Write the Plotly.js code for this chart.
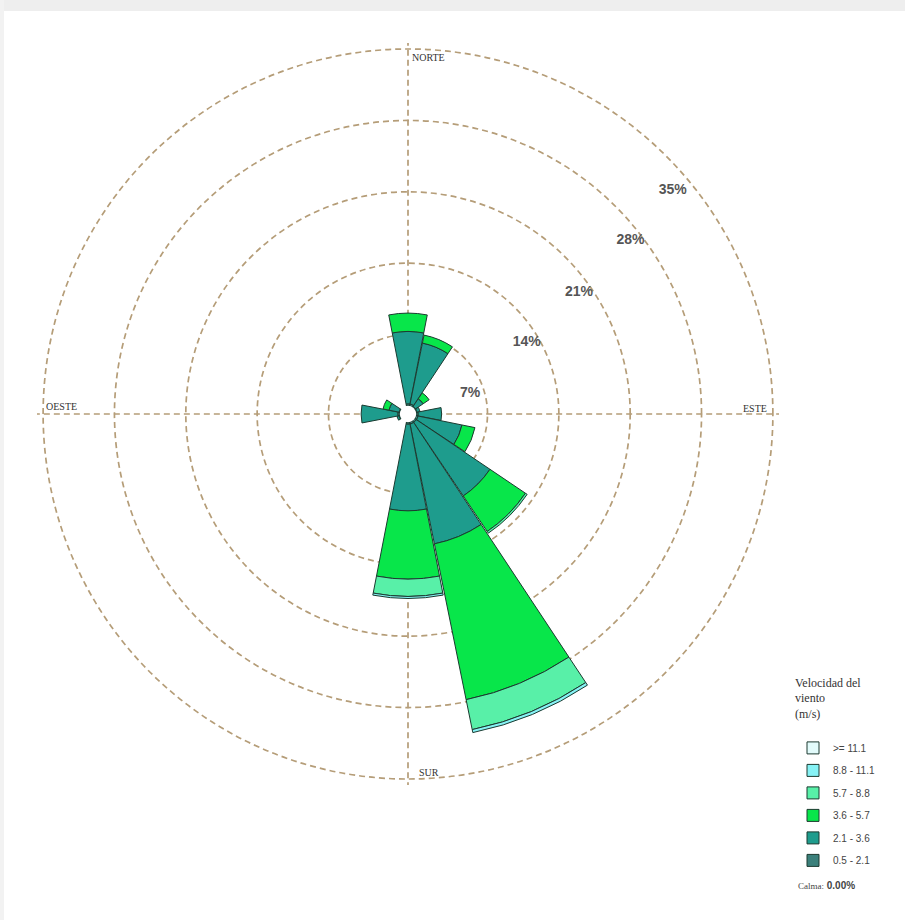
<!DOCTYPE html>
<html>
<head>
<meta charset="utf-8">
<script src="https://cdn.plot.ly/plotly-3.0.1.min.js"></script>
<style>
  html, body { margin: 0; padding: 0; background: #ffffff; }
  #chart { width: 905px; height: 920px; }
</style>
</head>
<body>
<div id="chart"></div>
<script>
// Wind directions (16 sectors, clockwise from north)
const directions = ['N','NNE','NE','ENE','E','ESE','SE','SSE','S','SSW','SW','WSW','W','WNW','NW','NNW'];

// Frequency (%) per speed class, per direction
const spd_0_5_2_1  = [0.2, 0.2, 0.1, 0.1, 0.2, 0.2, 0.2, 0.2, 0.2, 0.0, 0.0, 0.1, 0.2, 0.1, 0.0, 0.0];
const spd_2_1_3_6  = [7.1, 6.1, 0.9, 0.3, 2.3, 4.4, 8.7, 12.0, 8.5, 0.0, 0.0, 0.2, 3.6, 1.0, 0.0, 0.0];
const spd_3_6_5_7  = [1.8, 0.8, 0.7, 0.0, 0.0, 1.3, 4.2, 15.6, 6.7, 0.0, 0.0, 0.0, 0.0, 0.6, 0.0, 0.0];
const spd_5_7_8_8  = [0.0, 0.0, 0.0, 0.0, 0.0, 0.0, 0.2, 3.0, 1.7, 0.0, 0.0, 0.0, 0.0, 0.0, 0.0, 0.0];
const spd_8_8_11_1 = [0.0, 0.0, 0.0, 0.0, 0.0, 0.0, 0.0, 0.3, 0.2, 0.0, 0.0, 0.0, 0.0, 0.0, 0.0, 0.0];
const spd_ge_11_1  = [0.0, 0.0, 0.0, 0.0, 0.0, 0.0, 0.0, 0.0, 0.0, 0.0, 0.0, 0.0, 0.0, 0.0, 0.0, 0.0];

const speedLabels = ['0.5 - 2.1', '2.1 - 3.6', '3.6 - 5.7', '5.7 - 8.8', '8.8 - 11.1', '>= 11.1'];
const speedSeries = [spd_0_5_2_1, spd_2_1_3_6, spd_3_6_5_7, spd_5_7_8_8, spd_8_8_11_1, spd_ge_11_1];
const speedColors = ['#3b807b', '#1e9c8d', '#08e64a', '#58f0a8', '#86f2f5', '#e2fbfb'];

// Radial ticks
const radialTicks = [7, 14, 21, 28, 35];
const radialTickText = ['7%', '14%', '21%', '28%', '35%'];
// label placement (inside each ring)
const tickLabelR = [5.6, 12.8, 19.8, 26.9, 33.2];
const tickLabelTheta = [72, 59, 54.5, 52, 49.8];

const cardinalLabels = ['NORTE', 'ESTE', 'SUR', 'OESTE'];
const calmaValue = '0.00%';

const theta = directions.map((d, i) => i * 22.5);

const traces = speedSeries.map((vals, k) => ({
  type: 'barpolar',
  r: vals,
  theta: theta,
  width: 22,
  name: speedLabels[k],
  legendgroup: 'g' + k,
  legendrank: 1000 - k,
  marker: { color: speedColors[k], line: { color: '#1c3a30', width: 1 } },
  hoverinfo: 'skip'
}));

traces.push({
  type: 'scatterpolar',
  mode: 'text',
  r: tickLabelR,
  theta: tickLabelTheta,
  text: radialTickText,
  textfont: { family: 'Liberation Sans, Arial, sans-serif', size: 14, color: '#555555', weight: 'bold' },
  showlegend: false,
  hoverinfo: 'skip'
});

const cx = 408, cy = 414, R = 371;
const W = 905, H = 920;

const gridColor = '#b59d78';

const layout = {
  width: W,
  height: H,
  margin: { l: 0, r: 0, t: 0, b: 0 },
  paper_bgcolor: '#ffffff',
  showlegend: true,
  polar: {
    domain: { x: [(cx - R) / W, (cx + R) / W], y: [1 - (cy + R) / H, 1 - (cy - R) / H] },
    bgcolor: '#ffffff',
    hole: 0.022,
    barmode: 'stack',
    angularaxis: {
      direction: 'clockwise',
      rotation: 90,
      tickmode: 'array',
      tickvals: [0, 90, 180, 270],
      showticklabels: false,
      ticks: '',
      showline: false,
      showgrid: true,
      gridcolor: gridColor,
      gridwidth: 1.7,
      griddash: '6px,4px'
    },
    radialaxis: {
      range: [0, 35.6],
      tickmode: 'array',
      tickvals: radialTicks,
      showticklabels: false,
      ticks: '',
      showline: false,
      showgrid: true,
      gridcolor: gridColor,
      gridwidth: 1.7,
      griddash: '6px,4px'
    }
  },
  legend: {
    x: 793 / W,
    y: 1 - 671 / H,
    xanchor: 'left',
    yanchor: 'top',
    traceorder: 'grouped',
    tracegroupgap: 3.5,
    bgcolor: 'rgba(0,0,0,0)',
    font: { family: 'Liberation Sans, Arial, sans-serif', size: 10, color: '#444444' },
    title: {
      text: 'Velocidad del<br>viento<br>(m/s)<br> ',
      side: 'top',
      font: { family: 'Liberation Serif, DejaVu Serif, serif', size: 12, color: '#333333' }
    },
    itemwidth: 30
  },
  shapes: [
    { type: 'rect', xref: 'paper', yref: 'paper', x0: 0, x1: 1, y0: 1 - 11 / H, y1: 1,
      fillcolor: '#eeeeee', line: { width: 0 }, layer: 'below' },
    { type: 'rect', xref: 'paper', yref: 'paper', x0: 0, x1: 4 / W, y0: 0, y1: 1,
      fillcolor: '#f2f2f2', line: { width: 0 }, layer: 'below' }
  ],
  annotations: [
    { text: cardinalLabels[0], x: 410 / W, y: 1 - 57 / H },
    { text: cardinalLabels[1], x: 741 / W, y: 1 - 408 / H },
    { text: cardinalLabels[2], x: 417 / W, y: 1 - 772 / H },
    { text: cardinalLabels[3], x: 44 / W, y: 1 - 407 / H }
  ].map(a => Object.assign({
    xref: 'paper', yref: 'paper', xanchor: 'left', yanchor: 'middle', showarrow: false,
    font: { family: 'Liberation Serif, DejaVu Serif, serif', size: 10, color: '#333333' }
  }, a)).concat([
    {
      xref: 'paper', yref: 'paper', x: 796 / W, y: 1 - 885 / H, xanchor: 'left', yanchor: 'middle',
      showarrow: false,
      text: '<span style="font-family:Liberation Serif, serif;font-size:9px">Calma:</span> <b>' + calmaValue + '</b>',
      font: { family: 'Liberation Sans, Arial, sans-serif', size: 10, color: '#444444' }
    }
  ])
};

Plotly.newPlot('chart', traces, layout, { displayModeBar: false, staticPlot: true });
</script>
</body>
</html>
